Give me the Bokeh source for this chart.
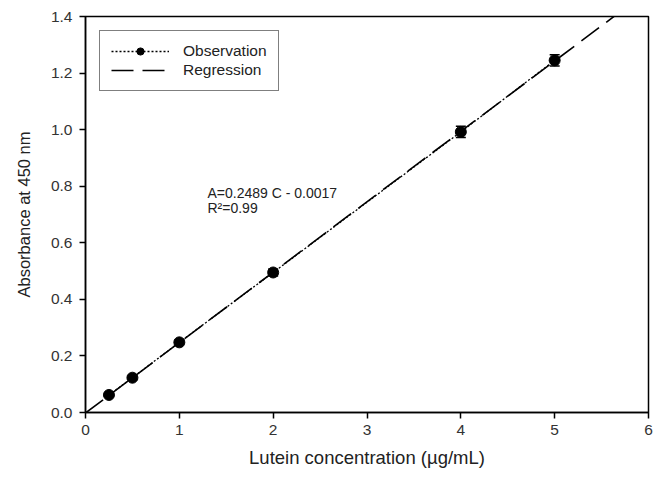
from bokeh.plotting import figure
from bokeh.models import (ColumnDataSource, Range1d, FixedTicker, Legend, LegendItem,
                          Whisker, TeeHead, Label, NumeralTickFormatter)
from bokeh.embed import file_html
from bokeh.resources import INLINE

# Data
conc = [0.25, 0.5, 1.0, 2.0, 4.0, 5.0]
absorb = [0.062, 0.123, 0.248, 0.495, 0.992, 1.245]
err = [0.005, 0.006, 0.008, 0.012, 0.020, 0.020]
slope = 0.2489
intercept = -0.0017
x_ticks = [0, 1, 2, 3, 4, 5, 6]
y_ticks = [0.0, 0.2, 0.4, 0.6, 0.8, 1.0, 1.2, 1.4]

FONT = "Liberation Sans"

src = ColumnDataSource(data=dict(
    x=conc, y=absorb,
    lo=[a - e for a, e in zip(absorb, err)],
    hi=[a + e for a, e in zip(absorb, err)],
))

p = figure(width=654, height=473, output_backend="svg", toolbar_location=None,
           x_range=Range1d(0, 6), y_range=Range1d(0, 1.4),
           min_border_left=85, min_border_right=6, min_border_top=16, min_border_bottom=61)
p.grid.visible = False
p.outline_line_color = "black"
p.outline_line_width = 1.5
p.background_fill_color = "white"
p.border_fill_color = "white"

reg_x = [0, 6]
reg_y = [slope * v + intercept for v in reg_x]
reg = p.line(reg_x, reg_y, line_color="black", line_width=1.6, line_dash="22 9")

obs_line = p.line("x", "y", source=src, line_color="black", line_width=1.3, line_dash="2 2")
wh = Whisker(source=src, base="x", lower="lo", upper="hi", line_color="black", line_width=1.5,
             upper_head=TeeHead(size=10, line_color="black", line_width=1.5),
             lower_head=TeeHead(size=10, line_color="black", line_width=1.5))
p.add_layout(wh)
obs_pts = p.scatter("x", "y", source=src, size=11, fill_color="black", line_color="black")

legend = Legend(items=[
    LegendItem(label="Observation", renderers=[obs_line, obs_pts]),
    LegendItem(label="Regression", renderers=[reg]),
], location="top_left")
legend.margin = 14
legend.border_line_color = "black"
legend.border_line_width = 1.5
legend.label_text_font = FONT
legend.label_text_font_size = "15.5px"
legend.label_text_color = "#222222"
legend.glyph_width = 58
legend.glyph_height = 18
legend.label_height = 18
legend.spacing = 1
legend.label_standoff = 14
legend.padding = 11
legend.background_fill_alpha = 1.0
p.add_layout(legend)

for ax in (p.xaxis[0], p.yaxis[0]):
    ax.axis_line_color = "black"
    ax.axis_line_width = 1.5
    ax.major_tick_line_color = "black"
    ax.major_tick_line_width = 1.5
    ax.major_tick_out = 6
    ax.major_tick_in = 0
    ax.minor_tick_line_color = None
    ax.major_label_text_font = FONT
    ax.major_label_text_font_size = "15.5px"
    ax.major_label_text_color = "#333333"
    ax.axis_label_text_font = FONT
    ax.axis_label_text_font_style = "normal"
    ax.axis_label_text_color = "#222222"

p.xaxis.ticker = FixedTicker(ticks=x_ticks)
p.yaxis.ticker = FixedTicker(ticks=y_ticks)
p.yaxis.formatter = NumeralTickFormatter(format="0.0")
p.xaxis.axis_label = "Lutein concentration (µg/mL)"
p.yaxis.axis_label = "Absorbance at 450 nm"
p.xaxis.axis_label_text_font_size = "18.5px"
p.yaxis.axis_label_text_font_size = "16.5px"
p.xaxis.major_label_standoff = 6
p.yaxis.major_label_standoff = 7
p.xaxis.axis_label_standoff = 9
p.yaxis.axis_label_standoff = 15

p.add_layout(Label(x=1.30, y=0.776, text="A=0.2489 C - 0.0017", text_font=FONT,
                   text_font_size="14px", text_color="#222222", text_baseline="alphabetic"))
p.add_layout(Label(x=1.30, y=0.724, text="R²=0.99", text_font=FONT,
                   text_font_size="14px", text_color="#222222", text_baseline="alphabetic"))

open("out.html", "w").write(file_html(p, INLINE))
